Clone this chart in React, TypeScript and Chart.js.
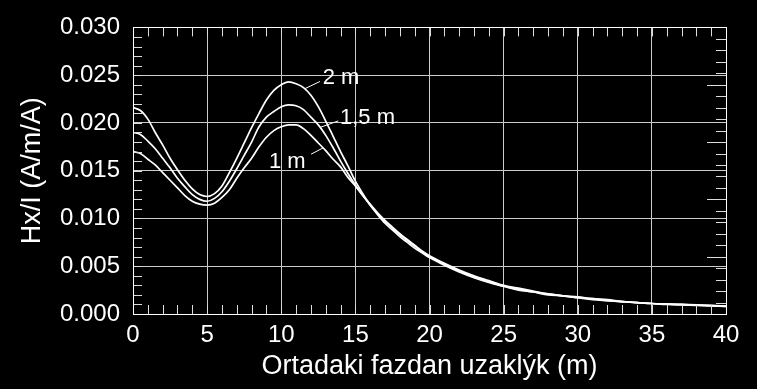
import React, { useEffect, useRef } from 'react';
import { Chart, registerables } from 'chart.js';

Chart.register(...registerables);

// Distance from middle phase (m)
const xValues = [
  0, 0.5, 1, 1.5, 2, 2.5, 3, 3.5, 4, 4.5, 5, 5.5, 6, 6.5, 7, 7.5, 8, 8.5, 9, 9.5,
  10, 10.5, 11, 11.5, 12, 12.5, 13, 13.5, 14, 14.5, 15, 15.5, 16, 16.5, 17, 17.5, 18, 18.5, 19, 19.5,
  20, 21, 22, 23, 24, 25, 26, 27, 28, 29, 30, 31, 32, 33, 34, 35, 36, 37, 38, 39, 40,
];

const series2m = [
  0.0216, 0.0213, 0.0204, 0.0190, 0.0177, 0.0163, 0.0151, 0.0140, 0.0131, 0.0125,
  0.0123, 0.0126, 0.0134, 0.0148, 0.0163, 0.0179, 0.0195, 0.0210, 0.0224, 0.0234,
  0.0240, 0.0243, 0.0241, 0.0237, 0.0229, 0.0217, 0.0202, 0.0186, 0.0170, 0.0155,
  0.0139, 0.0126, 0.0114, 0.0104, 0.0095, 0.0088, 0.0081, 0.0075, 0.0069, 0.0064,
  0.0059, 0.0051, 0.0044, 0.0038, 0.0033, 0.0029, 0.0025, 0.0023, 0.0020, 0.0019,
  0.0017, 0.0015, 0.0014, 0.0013, 0.0012, 0.0011, 0.0010, 0.00095, 0.0009, 0.00085, 0.0008,
];

const series15m = [
  0.0190, 0.0188, 0.0181, 0.0173, 0.0163, 0.0153, 0.0142, 0.0133, 0.0125, 0.0120,
  0.0118, 0.0121, 0.0128, 0.0139, 0.0152, 0.0166, 0.0180, 0.0196, 0.0206, 0.0212,
  0.0217, 0.0219, 0.0218, 0.0214, 0.0206, 0.0198, 0.0187, 0.0174, 0.0160, 0.0147,
  0.0135, 0.0124, 0.0114, 0.0105, 0.0097, 0.0090, 0.0083, 0.0077, 0.0071, 0.0065,
  0.0060, 0.0052, 0.0045, 0.0039, 0.0034, 0.0029, 0.0026, 0.0023, 0.0021, 0.0019,
  0.0017, 0.0016, 0.0014, 0.0013, 0.0012, 0.0011, 0.00105, 0.0010, 0.00092, 0.00087, 0.0008,
];

const series1m = [
  0.0170, 0.0168, 0.0162, 0.0156, 0.0148, 0.0140, 0.0132, 0.0124, 0.0118, 0.0115,
  0.0114, 0.0116, 0.0122, 0.0130, 0.0142, 0.0153, 0.0163, 0.0175, 0.0185, 0.0192,
  0.0196, 0.0198, 0.0198, 0.0194, 0.0187, 0.0179, 0.0171, 0.0162, 0.0154, 0.0143,
  0.0134, 0.0124, 0.0115, 0.0106, 0.0098, 0.0091, 0.0084, 0.0078, 0.0072, 0.0066,
  0.0061, 0.0053, 0.0046, 0.0040, 0.0035, 0.0030, 0.0027, 0.0024, 0.0021, 0.0019,
  0.0018, 0.0016, 0.0015, 0.0013, 0.0012, 0.0011, 0.00105, 0.0010, 0.00095, 0.0009, 0.00082,
];

const seriesNames = ['2 m', '1,5 m', '1 m'];

// Curve label annotations (data units)
const labelPosX = [12.8, 13.96, 9.17];
const labelPosY = [0.02468, 0.0205, 0.01595];
const leaderStartX = [11.6, 12.61, 12.01];
const leaderStartY = [0.02359, 0.01953, 0.01673];
const leaderEndX = [12.61, 13.85, 12.84];
const leaderEndY = [0.02434, 0.02021, 0.0174];

const xTitle = 'Ortadaki fazdan uzaklýk (m)';
const yTitle = 'Hx/I (A/m/A)';

const FONT = "'Liberation Sans', Arial, Helvetica, sans-serif";

const decorPlugin = {
  id: 'decor',
  afterDatasetsDraw(chart: any) {
    const ctx = chart.ctx as CanvasRenderingContext2D;
    const { left, right, top, bottom } = chart.chartArea;
    const xs = chart.scales.x;
    const ys = chart.scales.y;
    const y2 = chart.scales.y2;
    const r = (v: number) => Math.round(v) + 0.5;
    ctx.save();
    ctx.lineWidth = 1;
    ctx.strokeStyle = '#dddddd';
    ctx.beginPath();
    for (let i = 0; i <= 40; i++) {
      const px = r(xs.getPixelForValue(i));
      ctx.moveTo(px, bottom);
      ctx.lineTo(px, bottom - 9);
      ctx.moveTo(px, top);
      ctx.lineTo(px, top + 9);
    }
    for (let j = 0; j <= 30; j++) {
      const py = r(ys.getPixelForValue(j * 0.001));
      ctx.moveTo(left, py);
      ctx.lineTo(left + 9, py);
    }
    for (let k = 0; k <= 25; k++) {
      const py = r(y2.getPixelForValue(k * 0.2));
      const len = k % 5 === 0 ? 19 : 10;
      ctx.moveTo(right, py);
      ctx.lineTo(right - len, py);
    }
    ctx.stroke();

    // frame
    ctx.strokeStyle = '#ffffff';
    ctx.strokeRect(r(left), r(top), Math.round(right) - Math.round(left), Math.round(bottom) - Math.round(top));

    // leader lines and labels
    ctx.beginPath();
    for (let i = 0; i < seriesNames.length; i++) {
      ctx.moveTo(xs.getPixelForValue(leaderStartX[i]), ys.getPixelForValue(leaderStartY[i]));
      ctx.lineTo(xs.getPixelForValue(leaderEndX[i]), ys.getPixelForValue(leaderEndY[i]));
    }
    ctx.stroke();
    ctx.fillStyle = '#ffffff';
    ctx.font = `22px ${FONT}`;
    ctx.textAlign = 'left';
    ctx.textBaseline = 'middle';
    for (let i = 0; i < seriesNames.length; i++) {
      ctx.fillText(seriesNames[i], xs.getPixelForValue(labelPosX[i]), ys.getPixelForValue(labelPosY[i]));
    }
    ctx.restore();
  },
};

export default function App() {
  const ref = useRef<HTMLCanvasElement | null>(null);

  useEffect(() => {
    document.body.style.margin = '0';
    document.body.style.background = '#000';
    const canvas = ref.current;
    if (!canvas) return;
    const mk = (ys: number[]) => xValues.map((x, i) => ({ x, y: ys[i] }));
    const chart = new Chart(canvas, {
      type: 'line',
      data: {
        datasets: [series2m, series15m, series1m].map((s, i) => ({
          label: seriesNames[i],
          data: mk(s),
          borderColor: '#ffffff',
          borderWidth: 1.7,
          pointRadius: 0,
          fill: false,
          cubicInterpolationMode: 'monotone' as const,
        })),
      },
      options: {
        responsive: false,
        animation: false,
        events: [],
        layout: { padding: { top: 18, right: 31, left: 0, bottom: 0 } },
        plugins: { legend: { display: false }, tooltip: { enabled: false } },
        scales: {
          x: {
            type: 'linear',
            position: 'bottom',
            min: 0,
            max: 40,
            afterFit: (s: any) => { s.height = 75; },
            ticks: {
              stepSize: 5,
              color: '#ffffff',
              font: { family: FONT, size: 24 },
              padding: 7,
              maxRotation: 0,
              autoSkip: false,
            },
            grid: { color: '#cccccc', lineWidth: 1, drawTicks: false },
            border: { display: true, color: '#ffffff' },
            title: {
              display: true,
              text: xTitle,
              color: '#ffffff',
              font: { family: FONT, size: 27 },
              padding: { top: 0, bottom: 6 },
            },
          },
          y: {
            type: 'linear',
            position: 'left',
            min: 0,
            max: 0.03,
            afterFit: (s: any) => { s.width = 133; },
            ticks: {
              stepSize: 0.005,
              color: '#ffffff',
              font: { family: FONT, size: 24 },
              padding: 13,
              callback: (v: any) => Number(v).toFixed(3),
            },
            grid: { color: '#cccccc', lineWidth: 1, drawTicks: false },
            border: { display: true, color: '#ffffff' },
            title: {
              display: true,
              text: yTitle,
              color: '#ffffff',
              font: { family: FONT, size: 27 },
              padding: { top: 16, bottom: 0 },
            },
          },
          y2: {
            type: 'linear',
            position: 'right',
            min: 0,
            max: 5,
            display: false,
          },
        },
      },
      plugins: [decorPlugin],
    });
    return () => chart.destroy();
  }, []);

  return (
    <div style={{ position: 'fixed', left: 0, top: 0, width: 757, height: 389, background: '#000' }}>
      <canvas ref={ref} width={757} height={389} style={{ display: 'block', width: 757, height: 389 }} />
    </div>
  );
}
